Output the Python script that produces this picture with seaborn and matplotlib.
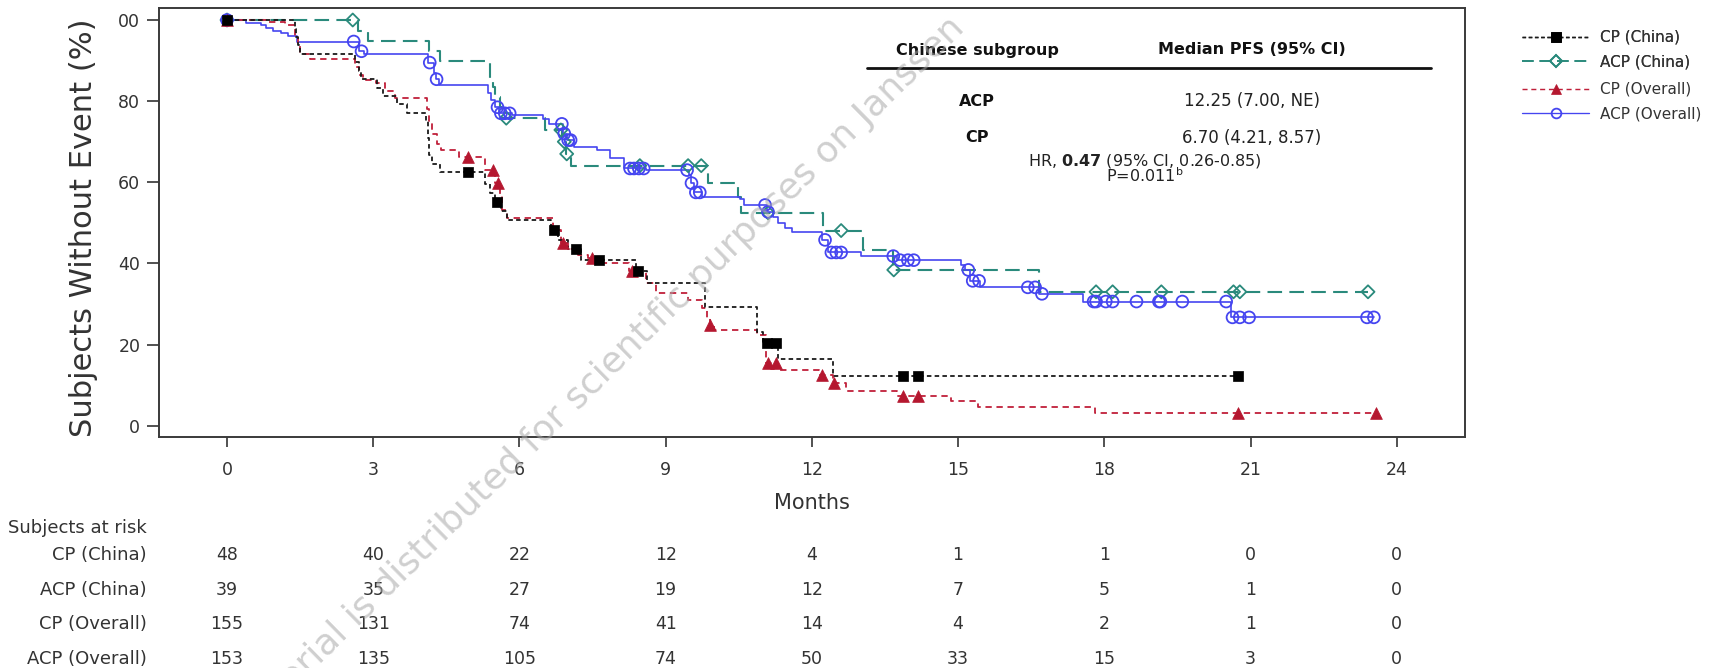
import numpy as np
import pandas as pd
import matplotlib
matplotlib.use("Agg")
import matplotlib.pyplot as plt
from matplotlib.lines import Line2D
import matplotlib.transforms as mtransforms
import seaborn as sns

# ---------------- data ----------------
x_ticks = [0, 3, 6, 9, 12, 15, 18, 21, 24]
y_ticks = [0, 20, 40, 60, 80, 100]
y_tick_labels = ["0", "20", "40", "60", "80", "00"]

series_names = ["CP (China)", "ACP (China)", "CP (Overall)", "ACP (Overall)"]

cp_china_t = [0, 1.39, 1.42, 1.45, 1.49, 2.63, 2.70, 2.75, 3.07, 3.20, 3.48, 3.69, 4.08, 4.12,
              4.15, 4.20, 4.37, 5.29, 5.40, 5.50, 5.62, 5.75, 6.65, 6.80, 7.00, 7.27, 8.40,
              8.61, 9.80, 10.87, 11.00, 11.30, 12.43, 20.74]
cp_china_s = [100, 97.9, 95.8, 93.8, 91.7, 89.6, 87.5, 85.4, 83.3, 81.2, 79.2, 77.1, 75.0, 70.8,
              66.7, 64.6, 62.5, 59.6, 57.3, 55.2, 52.9, 50.7, 48.2, 45.8, 43.5, 40.8, 38.2,
              35.1, 29.3, 23.2, 20.5, 16.4, 12.3, 12.3]
cp_china_cens = [0, 4.94, 5.53, 6.70, 7.16, 7.63, 8.43, 11.07, 11.27, 13.86, 14.17, 20.74]

acp_china_t = [0, 2.69, 2.90, 4.15, 4.37, 5.39, 5.45, 5.50, 5.60, 5.65, 6.52, 6.88, 6.95, 7.05,
               9.87, 10.49, 10.55, 12.23, 13.05, 13.67, 16.66, 23.41]
acp_china_s = [100, 97.4, 94.8, 92.3, 89.8, 85.5, 83.4, 81.1, 78.5, 75.8, 72.9, 70.0, 67.0, 64.1,
               59.7, 56.4, 52.5, 48.1, 43.3, 38.4, 33.0, 33.0]
acp_china_cens = [0, 2.58, 5.73, 6.85, 6.92, 6.97, 8.47, 9.46, 9.73, 11.10, 12.60, 13.68, 17.83,
                  18.17, 19.17, 20.65, 20.78, 23.41]

cp_overall_t = [0, 0.85, 1.20, 1.39, 1.45, 1.50, 1.70, 2.62, 2.70, 2.80, 3.05, 3.25, 3.45, 4.10,
                4.15, 4.20, 4.30, 4.40, 4.75, 5.30, 5.50, 5.60, 5.65, 5.75, 6.69, 6.85, 7.00,
                7.20, 7.40, 7.60, 8.25, 8.60, 8.80, 9.45, 9.75, 9.85, 9.90, 10.00, 10.87, 11.05,
                11.30, 12.15, 12.43, 12.70, 13.75, 14.85, 15.40, 17.80, 23.57]
cp_overall_s = [100, 99.4, 98.7, 96.1, 93.5, 91.6, 90.3, 88.4, 86.5, 85.2, 84.5, 82.6, 80.7, 78.0,
                74.8, 72.0, 69.5, 68.0, 66.3, 63.0, 59.8, 56.5, 53.2, 51.1, 48.2, 45.0, 43.5,
                42.0, 41.3, 40.0, 38.2, 35.1, 32.6, 31.0, 29.0, 26.5, 24.8, 23.6, 22.4, 15.4,
                13.7, 12.5, 10.5, 8.6, 7.3, 6.1, 4.5, 3.05, 3.05]
cp_overall_cens = [0, 4.94, 5.45, 5.55, 6.90, 7.48, 8.30, 9.91, 11.10, 11.27, 12.20, 12.46, 13.86,
                   14.17, 20.74, 23.57]

acp_overall_t = [0, 0.40, 0.70, 0.80, 0.95, 1.10, 1.25, 1.43, 2.70, 2.82, 4.13, 4.25, 4.28, 4.35,
                 5.36, 5.42, 5.50, 5.58, 5.85, 6.49, 6.60, 6.90, 6.98, 7.12, 7.60, 7.86, 8.15,
                 8.60, 9.48, 9.52, 9.58, 9.75, 10.52, 10.60, 11.07, 11.20, 11.30, 11.45, 11.60,
                 12.20, 12.33, 13.00, 13.75, 15.05, 15.15, 15.25, 15.45, 16.65, 17.56, 20.60, 23.53]
acp_overall_s = [100, 99.3, 98.7, 98.0, 97.4, 96.7, 96.1, 94.7, 92.3, 91.6, 89.5, 87.0, 85.4, 84.0,
                 82.0, 80.3, 78.5, 77.0, 76.6, 75.6, 74.4, 72.0, 70.4, 68.8, 67.9, 65.9, 63.4,
                 63.0, 61.8, 59.8, 57.5, 56.4, 55.9, 54.4, 52.7, 51.5, 50.0, 48.8, 47.8,
                 45.8, 42.7, 41.8, 40.8, 39.6, 38.4, 35.7, 34.1, 32.5, 30.6, 26.7, 26.7]
acp_overall_cens = [0, 2.60, 2.76, 4.16, 4.30, 5.55, 5.62, 5.70, 5.80, 6.87, 6.92, 7.00, 7.05, 8.27,
                    8.35, 8.45, 8.55, 9.44, 9.53, 9.62, 9.70, 11.04, 11.10, 12.27, 12.40, 12.50,
                    12.60, 13.67, 13.81, 13.97, 14.09, 15.21, 15.30, 15.43, 16.43, 16.58, 16.72,
                    17.78, 17.83, 18.03, 18.17, 18.66, 19.12, 19.15, 19.60, 20.50, 20.63, 20.78,
                    20.97, 23.39, 23.53]

risk_cp_china = [48, 40, 22, 12, 4, 1, 1, 0, 0]
risk_acp_china = [39, 35, 27, 19, 12, 7, 5, 1, 0]
risk_cp_overall = [155, 131, 74, 41, 14, 4, 2, 1, 0]
risk_acp_overall = [153, 135, 105, 74, 50, 33, 15, 3, 0]

table_groups = ["ACP", "CP"]
table_medians = ["12.25 (7.00, NE)", "6.70 (4.21, 8.57)"]

# ---------------- style ----------------
sns.set_theme(style="ticks")
plt.rcParams["font.family"] = ["DejaVu Sans"]
TXT = "#333333"

styles = {
    "CP (China)": dict(color="#1a1a1a", ls=(0, (2.5, 1.8)), lw=1.3, marker="s", s=62,
                       fc="#000000", ec="#000000", mlw=0.5, lms=7),
    "ACP (China)": dict(color="#2a8a7c", ls=(0, (7, 3.5)), lw=1.5, marker="D", s=44,
                        fc="none", ec="#2a8a7c", mlw=1.3, lms=6),
    "CP (Overall)": dict(color="#c0203a", ls=(0, (3.5, 2.6)), lw=1.3, marker="^", s=72,
                         fc="#b5172f", ec="#b5172f", mlw=0.5, lms=7),
    "ACP (Overall)": dict(color="#4545f0", ls="-", lw=1.2, marker="o", s=72,
                          fc="none", ec="#4545f0", mlw=1.3, lms=7),
}
curves = {
    "CP (China)": (cp_china_t, cp_china_s, cp_china_cens),
    "ACP (China)": (acp_china_t, acp_china_s, acp_china_cens),
    "CP (Overall)": (cp_overall_t, cp_overall_s, cp_overall_cens),
    "ACP (Overall)": (acp_overall_t, acp_overall_s, acp_overall_cens),
}
risk = {
    "CP (China)": risk_cp_china,
    "ACP (China)": risk_acp_china,
    "CP (Overall)": risk_cp_overall,
    "ACP (Overall)": risk_acp_overall,
}

W, H = 1709, 668
fig = plt.figure(figsize=(W / 100, H / 100), dpi=100)
fig.patch.set_facecolor("white")


def fx(px):
    return px / W


def fy(py):
    return 1 - py / H


ax = fig.add_axes([fx(159), fy(437), (1465 - 159) / W, (437 - 8) / H])
ax.set_facecolor("white")

draw_order = ["ACP (China)", "ACP (Overall)", "CP (Overall)", "CP (China)"]
for name in draw_order:
    t, s, cens = curves[name]
    st = styles[name]
    df = pd.DataFrame({"Months": t, "Survival": s})
    sns.lineplot(data=df, x="Months", y="Survival", ax=ax, estimator=None, sort=False,
                 drawstyle="steps-post", color=st["color"], linewidth=st["lw"], legend=False)
    ln = ax.get_lines()[-1]
    ln.set_linestyle(st["ls"])
    tt = np.asarray(t)
    cc = np.asarray(cens)
    idx = np.searchsorted(tt, cc, side="right") - 1
    cy = np.asarray(s)[idx]
    sns.scatterplot(x=cc, y=cy, ax=ax, marker=st["marker"], s=st["s"], color=st["ec"],
                    facecolor=st["fc"], edgecolor=st["ec"], linewidth=st["mlw"],
                    zorder=4, legend=False)

ax.set_xlim(-1.395, 25.4)
ax.set_ylim(-2.79, 102.96)
ax.set_xticks(x_ticks)
ax.set_xticklabels([str(v) for v in x_ticks])
ax.set_yticks(y_ticks)
ax.set_yticklabels(y_tick_labels)
ax.tick_params(axis="y", direction="out", length=9, width=1.2, pad=4.5, labelsize=12.5,
               colors="#333333", labelcolor=TXT)
ax.tick_params(axis="x", direction="out", length=7, width=1.2, pad=10, labelsize=12.5,
               colors="#333333", labelcolor=TXT)
for sp in ax.spines.values():
    sp.set_visible(True)
    sp.set_color("#3a3a3a")
    sp.set_linewidth(1.4)
ax.set_xlabel("Months", fontsize=15, color=TXT)
ax.xaxis.set_label_coords(0.5, -0.13)
ax.set_ylabel("")
fig.text(fx(84), fy(228), "Subjects Without Event (%)", rotation=90, ha="center",
         va="center", fontsize=22, color=TXT)

# legend (two groups, as in the reference spacing)
handles = []
for name in series_names:
    st = styles[name]
    handles.append(Line2D([], [], color=st["color"], linestyle=st["ls"], linewidth=st["lw"] * 0.8,
                          marker=st["marker"], markersize=st["lms"],
                          markerfacecolor=st["fc"], markeredgecolor=st["ec"],
                          markeredgewidth=st["mlw"]))
leg_kw = dict(loc="upper left", frameon=False, fontsize=11, handlelength=4.4,
              handletextpad=0.7, labelspacing=0.62, borderpad=0, borderaxespad=0,
              numpoints=1, labelcolor=TXT)
leg1 = fig.legend(handles[:2], series_names[:2], bbox_to_anchor=(fx(1522), fy(30)), **leg_kw)
fig.add_artist(leg1)
fig.legend(handles[2:], series_names[2:], bbox_to_anchor=(fx(1522), fy(82)), **leg_kw)

# inset summary table
fig.text(fx(977), fy(50), "Chinese subgroup", ha="center", va="center", fontsize=11.5,
         fontweight="bold", color="#111111")
fig.text(fx(1252), fy(50), "Median PFS (95% CI)", ha="center", va="center", fontsize=11.5,
         fontweight="bold", color="#111111")
fig.add_artist(Line2D([fx(867), fx(1431)], [fy(68), fy(68)], color="#111111", lw=2.0))
row_y = [101, 138]
for g, m, yy in zip(table_groups, table_medians, row_y):
    fig.text(fx(977), fy(yy), g, ha="center", va="center", fontsize=11.5, fontweight="bold",
             color="#111111")
    fig.text(fx(1252), fy(yy), m, ha="center", va="center", fontsize=12, color="#222222")
fig.text(fx(1145), fy(161), r"HR, $\mathbf{0.47}$ (95% CI, 0.26-0.85)", ha="center",
         va="center", fontsize=11.5, color="#222222")
fig.text(fx(1145), fy(176), r"P=0.011$^{\mathrm{b}}$", ha="center", va="center",
         fontsize=11.5, color="#222222")

# subjects at risk table
fig.text(fx(8), fy(528), "Subjects at risk", ha="left", va="center", fontsize=13, color=TXT)
risk_rows_y = [555, 590, 624, 659]
blend = mtransforms.blended_transform_factory(ax.transData, fig.transFigure)
for name, yy in zip(series_names, risk_rows_y):
    fig.text(fx(147), fy(yy), name, ha="right", va="center", fontsize=13, color=TXT)
    for xv, n in zip(x_ticks, risk[name]):
        ax.text(xv, fy(yy), str(n), transform=blend, ha="center", va="center",
                fontsize=12.5, color=TXT, clip_on=False)

# watermark
fig.text(fx(597), fy(378), "material is distributed for scientific purposes on Janssen",
         rotation=44.5, rotation_mode="anchor", ha="center", va="center", fontsize=26,
         color="#a8a8a8", alpha=0.55, zorder=10)

fig.savefig("out.png", dpi=100, facecolor="white")
